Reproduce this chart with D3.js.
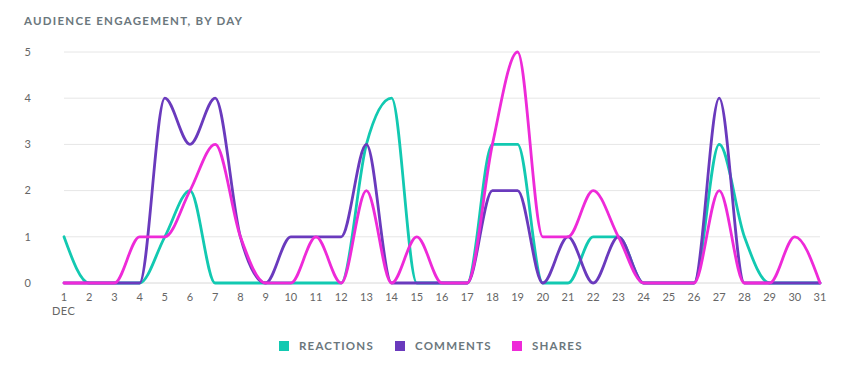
<!DOCTYPE html>
<html><head><meta charset="utf-8">
<script src="https://cdn.jsdelivr.net/npm/d3@7"></script>
<style>
body{margin:0;background:#fff;}
text{font-family:Lato,"Open Sans",sans-serif;}
</style></head>
<body><svg id="c" width="845" height="380"></svg>
<script>
const days = d3.range(1, 32);
const reactions = [1,0,0,0,1,2,0,0,0,0,0,0,3,4,0,0,0,3,3,0,0,1,1,0,0,0,3,1,0,0,0];
const comments  = [0,0,0,0,4,3,4,1,0,1,1,1,3,0,0,0,0,2,2,0,1,0,1,0,0,0,4,0,0,0,0];
const shares    = [0,0,0,1,1,2,3,1,0,0,1,0,2,0,1,0,0,3,5,1,1,2,1,0,0,0,2,0,0,1,0];
const yTicks = [0,1,2,3,4,5];
const seriesNames = ["REACTIONS","COMMENTS","SHARES"];
const colors = ["#12c9b1","#6a3abd","#ee2ad8"];
const series = [reactions, comments, shares];

const svg = d3.select("#c");
const x = d3.scaleLinear().domain([1,31]).range([64,820]);
const y = d3.scaleLinear().domain([0,5]).range([283,52]);

svg.append("text").attr("x",24).attr("y",25).text("AUDIENCE ENGAGEMENT, BY DAY")
  .attr("font-size",11.5).attr("font-weight",700).attr("fill","#6b777d").attr("letter-spacing",1.25);

// grid
svg.append("g").selectAll("line").data(yTicks).join("line")
  .attr("x1",64).attr("x2",820).attr("y1",d=>y(d)).attr("y2",d=>y(d))
  .attr("stroke",d=>d===0?"#d8d8d8":"#e6e6e6").attr("stroke-width",1);

// y labels
svg.append("g").selectAll("text").data(yTicks).join("text")
  .attr("x",31).attr("y",d=>y(d)).attr("dy","0.35em").attr("text-anchor","end")
  .attr("font-size",11).attr("fill","#666").text(d=>d);

// x labels
svg.append("g").selectAll("text").data(days).join("text")
  .attr("x",d=>x(d)).attr("y",301).attr("text-anchor","middle")
  .attr("font-size",11).attr("fill","#666").text(d=>d);
svg.append("text").attr("x",x(1)-12).attr("y",315).attr("font-size",11).attr("fill","#666")
  .attr("letter-spacing",0.5).text("DEC");

const line = d3.line().x((d,i)=>x(days[i])).y(d=>y(d)).curve(d3.curveMonotoneX);
svg.append("g").selectAll("path").data(series).join("path")
  .attr("d",line).attr("fill","none").attr("stroke",(d,i)=>colors[i])
  .attr("stroke-width",2.8).attr("stroke-linejoin","round").attr("stroke-linecap","round");

// legend
const legX = [279,395,512];
const lg = svg.append("g").selectAll("g").data(seriesNames).join("g")
  .attr("transform",(d,i)=>`translate(${legX[i]},341)`);
lg.append("rect").attr("width",10).attr("height",10).attr("fill",(d,i)=>colors[i]);
lg.append("text").attr("x",20).attr("y",5).attr("dy","0.36em").attr("font-size",11.5)
  .attr("font-weight",700).attr("fill","#6b777d").attr("letter-spacing",1.2).text(d=>d);
</script></body></html>
